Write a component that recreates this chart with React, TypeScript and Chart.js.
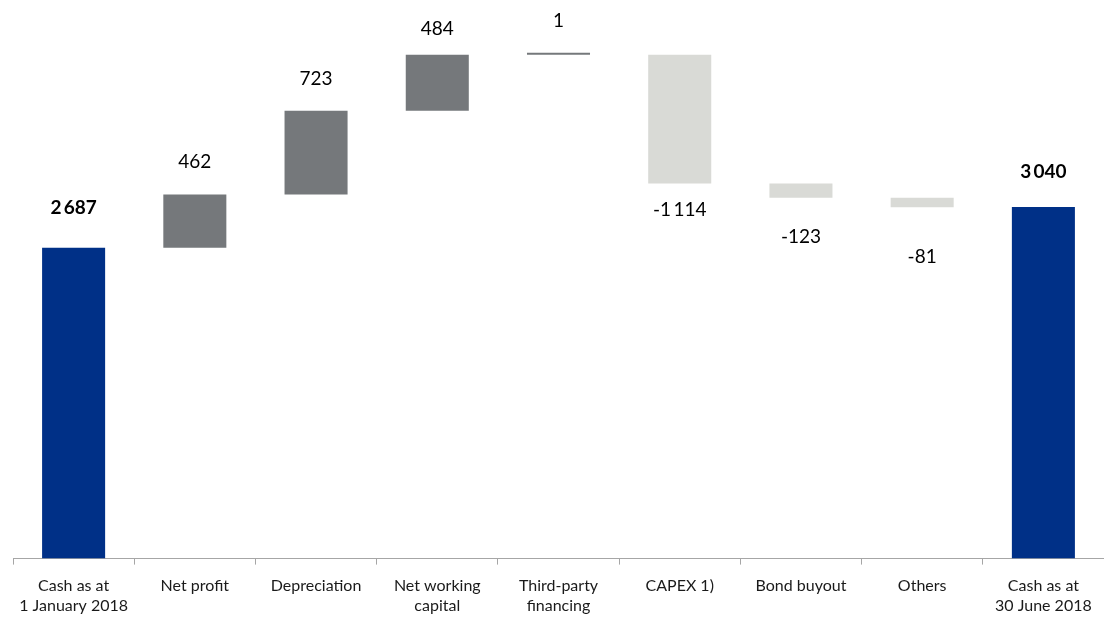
import React, { useEffect, useRef } from "react";
import { Chart, registerables } from "chart.js";

Chart.register(...registerables);

const categories: string[][] = [
  ["Cash as at", "1 January 2018"],
  ["Net profit"],
  ["Depreciation"],
  ["Net working", "capital"],
  ["Third-party", "financing"],
  ["CAPEX 1)"],
  ["Bond buyout"],
  ["Others"],
  ["Cash as at", "30 June 2018"],
];
const changes: number[] = [2687, 462, 723, 484, 1, -1114, -123, -81, 3040];
const kinds: string[] = ["total", "up", "up", "up", "up", "down", "down", "down", "total"];
const valueLabels: string[] = ["2\u2009687", "462", "723", "484", "1", "-1\u2009114", "-123", "-81", "3\u2009040"];
const labelGaps: number[] = [40, 33, 32, 26, 34, 26, 39, 50, 35];

const COLORS: Record<string, string> = {
  total: "#003087",
  up: "#75787B",
  down: "#D9DAD6",
};

function buildRanges(): [number, number][] {
  const out: [number, number][] = [];
  let running = 0;
  changes.forEach((v, i) => {
    if (kinds[i] === "total") {
      out.push([0, v]);
      running = v;
    } else {
      const next = running + v;
      out.push([Math.min(running, next), Math.max(running, next)]);
      running = next;
    }
  });
  return out;
}

export default function App() {
  const ref = useRef<HTMLCanvasElement>(null);
  useEffect(() => {
    if (!ref.current) return;
    const ranges = buildRanges();
    const labelPlugin = {
      id: "valueLabels",
      afterDatasetsDraw(chart: any) {
        const ctx = chart.ctx;
        const meta = chart.getDatasetMeta(0);
        const y = chart.scales.y;
        ctx.save();
        ctx.textAlign = "center";
        ctx.textBaseline = "middle";
        meta.data.forEach((bar: any, i: number) => {
          const kind = kinds[i];
          ctx.font = (kind === "total" ? "bold " : "") + "19px Lato";
          ctx.fillStyle = "#000";
          let py: number;
          if (changes[i] >= 0) {
            py = y.getPixelForValue(ranges[i][1]) - labelGaps[i];
          } else {
            py = y.getPixelForValue(ranges[i][0]) + labelGaps[i];
          }
          ctx.fillText(valueLabels[i], bar.x, py);
        });
        ctx.restore();
      },
    };
    const chart = new Chart(ref.current, {
      type: "bar",
      data: {
        labels: categories,
        datasets: [
          {
            data: ranges as any,
            backgroundColor: kinds.map((k) => COLORS[k]),
            barPercentage: 0.52,
            categoryPercentage: 1,
            minBarLength: 2,
            borderSkipped: false,
          },
        ],
      },
      options: {
        animation: false,
        responsive: true,
        maintainAspectRatio: false,
        layout: { padding: { left: 13, right: 0, top: 0, bottom: -10 } },
        plugins: { legend: { display: false }, tooltip: { enabled: false } },
        scales: {
          x: {
            grid: {
              display: true,
              drawOnChartArea: false,
              drawTicks: true,
              tickLength: 6,
              color: "#A6A6A6",
              offset: true,
            },
            border: { display: true, color: "#A6A6A6", width: 1 },
            ticks: {
              color: "#1a1a1a",
              font: { family: "Lato", size: 16 },
              maxRotation: 0,
              autoSkip: false,
              padding: 12,
            },
          },
          y: {
            display: false,
            min: 0,
            max: 4830,
          },
        },
      },
      plugins: [labelPlugin],
    });
    return () => chart.destroy();
  }, []);
  return (
    <div style={{ position: "absolute", left: 0, top: 0, width: 1104, height: 617 }}>
      <canvas ref={ref} />
    </div>
  );
}
